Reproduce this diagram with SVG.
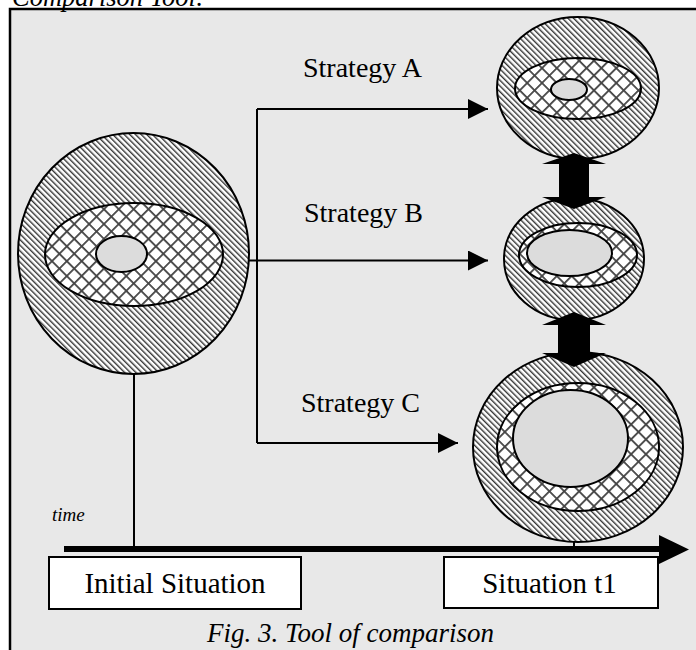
<svg xmlns="http://www.w3.org/2000/svg" width="696" height="650" viewBox="0 0 696 650">
<defs>
<style>
.frame{fill:#e8e8e8;stroke:#000;stroke-width:2.5}
.outer{fill:url(#hatch);stroke:#000;stroke-width:2}
.mid{fill:url(#cross);stroke:#000;stroke-width:2}
.core{fill:#dcdcdc;stroke:#000;stroke-width:2}
.line{fill:none;stroke:#000;stroke-width:2}
.box{fill:#fff;stroke:#000;stroke-width:2}
.lbl{font-family:"Liberation Serif","Times New Roman",serif;fill:#000}
.it{font-style:italic}
.blk{fill:#000}
</style>
<pattern id="hatch" width="4" height="4" patternUnits="userSpaceOnUse" patternTransform="rotate(-45)">
<rect width="4" height="4" fill="#fff"/>
<rect width="1.4" height="4" fill="#333"/>
</pattern>
<pattern id="cross" width="10.5" height="10.5" patternUnits="userSpaceOnUse" patternTransform="rotate(45)">
<rect width="10.5" height="10.5" fill="#fff"/>
<rect width="1.8" height="10.5" fill="#444"/>
<rect width="10.5" height="1.8" fill="#444"/>
</pattern>
<marker id="ah" markerUnits="userSpaceOnUse" markerWidth="20" markerHeight="20" refX="20" refY="10" orient="auto">
<path d="M0,0 L20,10 L0,20 Z" fill="#000"/>
</marker>
</defs>
<rect width="696" height="650" fill="#fff"/>
<rect class="frame" x="10" y="9" width="700" height="660"/>
<text class="lbl it" x="12" y="6" font-size="26.5">Comparison Tool:</text>

<g id="connectors">
<path class="line" d="M257,109 V443"/>
<path class="line" d="M257,109 H488" marker-end="url(#ah)"/>
<path class="line" d="M249,260.5 H488" marker-end="url(#ah)"/>
<path class="line" d="M257,443 H458" marker-end="url(#ah)"/>
<path class="line" d="M134,374 V549"/>
<path class="line" d="M574,542 V549"/>
<path d="M64,546 H660 V552 H64 Z" class="blk"/>
<path d="M659,535 L689,549.5 L659,564 Z" class="blk"/>
</g>

<g id="initial">
<ellipse class="outer" cx="133.5" cy="253.5" rx="115.5" ry="120.5"/>
<ellipse class="mid" cx="134" cy="254.5" rx="89" ry="51.5"/>
<ellipse class="core" cx="121.5" cy="254" rx="25.5" ry="18"/>
</g>

<g id="result-a">
<ellipse class="outer" cx="578" cy="88" rx="81" ry="71"/>
<ellipse class="mid" cx="578" cy="88.5" rx="63" ry="30.5"/>
<ellipse class="core" cx="569" cy="89.5" rx="18" ry="10.5"/>
</g>

<g id="result-b">
<ellipse class="outer" cx="574" cy="259" rx="70" ry="61"/>
<ellipse class="mid" cx="578" cy="255" rx="59" ry="32"/>
<ellipse class="core" cx="569.5" cy="253" rx="42.5" ry="23"/>
</g>

<g id="result-c">
<ellipse class="outer" cx="578" cy="447" rx="105" ry="95"/>
<ellipse class="mid" cx="578" cy="447" rx="81" ry="64"/>
<ellipse class="core" cx="570.5" cy="438.5" rx="57.5" ry="48.5"/>
</g>

<g id="compare-ab">
<path class="blk" d="M574,153 L606,164 L589,164 L589,197 L606,197 L574,209 L542,197 L559,197 L559,164 L542,164 Z"/>
</g>
<g id="compare-bc">
<path class="blk" d="M574,312 L606,325 L590,325 L590,353 L606,353 L574,367 L542,353 L558,353 L558,325 L542,325 Z"/>
</g>

<g id="label-a"><text class="lbl" x="303" y="77" font-size="28">Strategy A</text></g>
<g id="label-b"><text class="lbl" x="304" y="222" font-size="28">Strategy B</text></g>
<g id="label-c"><text class="lbl" x="301" y="412" font-size="28">Strategy C</text></g>
<g id="label-time"><text class="lbl it" x="52" y="521" font-size="19">time</text></g>

<g id="box-initial">
<rect class="box" x="49" y="557" width="252" height="52"/>
<text class="lbl" x="175" y="593" font-size="29" text-anchor="middle">Initial Situation</text>
</g>
<g id="box-t1">
<rect class="box" x="444" y="557" width="214" height="51"/>
<text class="lbl" x="549.5" y="593" font-size="29" text-anchor="middle">Situation t1</text>
</g>

<text class="lbl it" x="207" y="642" font-size="27">Fig. 3. Tool of comparison</text>
</svg>
